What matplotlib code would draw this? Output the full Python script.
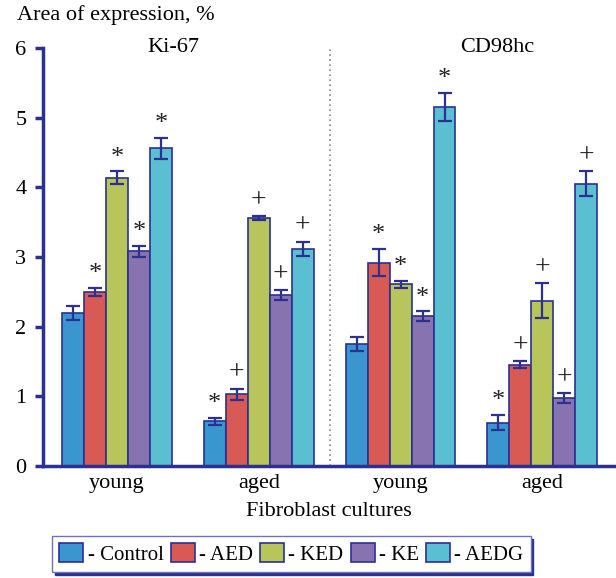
import numpy as np
import matplotlib.pyplot as plt
from matplotlib.patches import Patch

plt.rcParams['font.family'] = ['Liberation Serif', 'DejaVu Serif']

# groups: Ki-67 young, Ki-67 aged, CD98hc young, CD98hc aged
groups = ['young', 'aged', 'young', 'aged']
series = ['Control', 'AED', 'KED', 'KE', 'AEDG']
colors = ['#3a96cf', '#d95a55', '#b8c55a', '#8673af', '#5bbfd2']

control = [2.20, 0.64, 1.75, 0.62]
aed = [2.50, 1.03, 2.92, 1.45]
ked = [4.14, 3.56, 2.61, 2.37]
ke = [3.08, 2.45, 2.15, 0.98]
aedg = [4.56, 3.12, 5.15, 4.05]

control_err = [0.10, 0.05, 0.10, 0.11]
aed_err = [0.06, 0.08, 0.20, 0.05]
ked_err = [0.09, 0.03, 0.05, 0.25]
ke_err = [0.08, 0.07, 0.07, 0.07]
aedg_err = [0.15, 0.10, 0.20, 0.18]

control_mark = ['', '*', '', '*']
aed_mark = ['*', '+', '*', '+']
ked_mark = ['*', '+', '*', '+']
ke_mark = ['*', '+', '*', '+']
aedg_mark = ['*', '+', '*', '+']

values = [control, aed, ked, ke, aedg]
errors = [control_err, aed_err, ked_err, ke_err, aedg_err]
marks = [control_mark, aed_mark, ked_mark, ke_mark, aedg_mark]

edge = '#2b3092'

fig = plt.figure(figsize=(6.16, 5.78), dpi=100)
ax = fig.add_axes([0.0698, 0.1938, 0.928, 0.7232])

x = np.arange(len(groups))
width = 0.155
for i, (vals, errs, mk, c) in enumerate(zip(values, errors, marks, colors)):
    pos = x + (i - 2) * width
    ax.bar(pos, vals, width, color=c, edgecolor=edge, linewidth=1.2, zorder=2)
    ax.errorbar(pos, vals, yerr=errs, fmt='none', ecolor=edge, elinewidth=1.6,
                capsize=5, capthick=1.6, zorder=3)
    for p, v, e, m in zip(pos, vals, errs, mk):
        if m:
            ax.text(p, v + e + 0.04, m, ha='center', va='bottom',
                    fontsize=19 if m == '*' else 20, color='#222222')

ax.axvline(1.5, color='#888888', linestyle=(0, (1, 2)), linewidth=1.2)

ax.set_xlim(-0.522, 3.51)
ax.set_ylim(0, 6)
ax.set_yticks(range(7))
ax.set_xticks(x)
ax.set_xticklabels(groups)
ax.tick_params(axis='x', length=0, labelsize=16, pad=6)
ax.tick_params(axis='y', direction='out', length=6, width=2.5, color=edge,
               labelsize=16, pad=6)
for s in ['top', 'right']:
    ax.spines[s].set_visible(False)
for s in ['left', 'bottom']:
    ax.spines[s].set_color(edge)
    ax.spines[s].set_linewidth(2.5)

ax.set_xlabel('Fibroblast cultures', fontsize=16, labelpad=6)
fig.text(0.027, 0.974, 'Area of expression, %', fontsize=16, va='center')
ax.text(0.40, 6.0, 'Ki-67', fontsize=16, ha='center', va='center')
ax.text(2.68, 6.0, 'CD98hc', fontsize=16, ha='center', va='center')

handles = [Patch(facecolor=c, edgecolor=edge, linewidth=1.2) for c in colors]
labels = ['- ' + s for s in series]
leg = fig.legend(handles, labels, loc='center', bbox_to_anchor=(0.473, 0.0415),
                 ncol=5, fontsize=15, frameon=True, fancybox=False,
                 shadow={'color': edge, 'alpha': 1}, handlelength=1.15,
                 handleheight=1.0, handletextpad=0.2, columnspacing=0.35,
                 borderpad=0.35, borderaxespad=0)
leg.get_frame().set_edgecolor('#6f72b8')
leg.get_frame().set_linewidth(1.0)

fig.savefig('out.png', dpi=100)
